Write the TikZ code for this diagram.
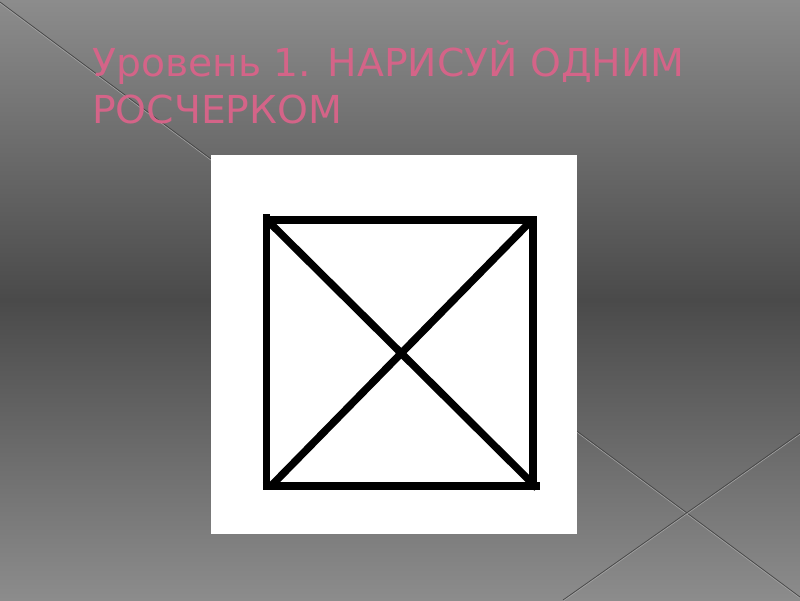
\documentclass[tikz,border=0pt]{standalone}
\usepackage{fontspec}
\setmainfont{DejaVu Sans}
\newfontfamily\titlefont[FakeStretch=1.02]{DejaVu Sans}
\definecolor{bgedge}{RGB}{140,140,140}
\definecolor{bgmid}{RGB}{74,74,74}
\definecolor{titlepink}{RGB}{212,100,136}
\definecolor{seamdark}{RGB}{70,70,70}
\definecolor{seamlight}{RGB}{165,165,165}
\tikzset{
  seam/.style={draw=seamdark, line width=0.7pt},
  seamhi/.style={draw=seamlight, line width=0.6pt},
  titletext/.style={anchor=base west, inner sep=0pt, text=titlepink, font=\titlefont\fontsize{38.5}{46}\selectfont},
  stroke/.style={draw=black, line width=7.5pt}
}
\begin{document}
\begin{tikzpicture}[x=1pt,y=-1pt]
\useasboundingbox (0,0) rectangle (800,600);
\shade[top color=bgedge, bottom color=bgedge, middle color=bgmid] (0,0) rectangle (800,600);
% background seams
\coordinate (s1a) at (0,2);
\coordinate (s1b) at (800,597);
\coordinate (s2a) at (800,433);
\coordinate (s2b) at (563,600);
\draw[seamhi] ([yshift=-1.2pt]s1a) -- ([yshift=-1.2pt]s1b);
\draw[seam] (s1a) -- (s1b);
\draw[seamhi] ([yshift=-1.2pt]s2a) -- ([yshift=-1.2pt]s2b);
\draw[seam] (s2a) -- (s2b);
% white card
\fill[white] (211,155) rectangle (577,534);
% figure
\coordinate (tl) at (266.5,220);
\coordinate (tr) at (533,220);
\coordinate (bl) at (266.5,486);
\coordinate (br) at (533,486);
\draw[stroke] (266.5,214) -- (bl);
\draw[stroke] ([xshift=-3.75pt]tl) -- ([xshift=3.75pt]tr);
\draw[stroke] (tr) -- ([yshift=3.75pt]br);
\draw[stroke] ([xshift=-3.75pt]bl) -- (540,486);
\draw[stroke] (269,222) -- (537,488);
\draw[stroke] (530,222) -- (270,487);
% title
\node[titletext] (title1) at (92,76) {Уровень 1. НАРИСУЙ ОДНИМ};
\node[titletext] (title2) at (92,123) {РОСЧЕРКОМ};
\end{tikzpicture}
\end{document}
